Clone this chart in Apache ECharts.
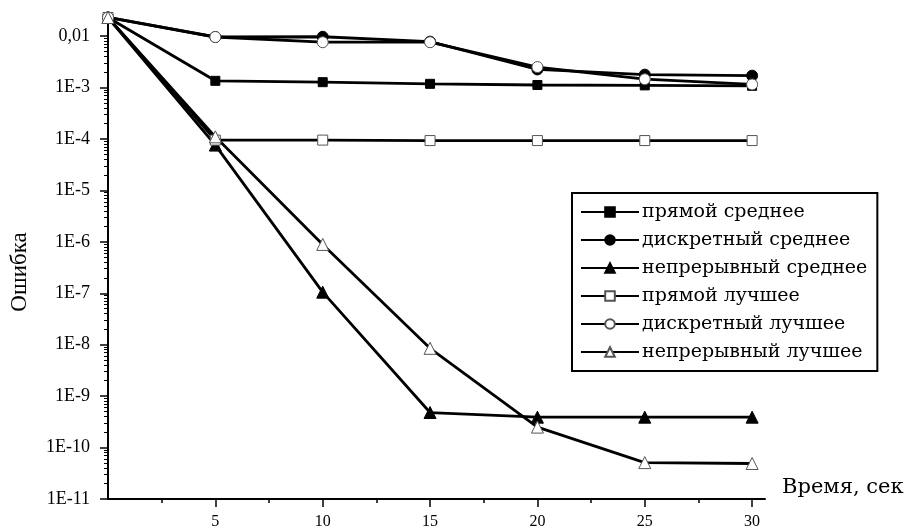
<!DOCTYPE html>
<html>
<head>
<meta charset="utf-8">
<script src="https://cdn.jsdelivr.net/npm/echarts@6/dist/echarts.min.js"></script>
<style>
  html, body { margin: 0; padding: 0; background: #fff; }
  #chart { width: 911px; height: 532px; }
</style>
</head>
<body>
<div id="chart"></div>
<script>
  // время, сек
  var times = [0, 5, 10, 15, 20, 25, 30];
  // ошибка по сериям
  var directMean   = [0.023, 0.00135, 0.00127, 0.00118, 0.00112, 0.0011, 0.00108];
  var discreteMean = [0.023, 0.0096, 0.0097, 0.0078, 0.00225, 0.00178, 0.0017];
  var contMean     = [0.023, 7.6e-5, 1.05e-7, 4.8e-10, 3.9e-10, 3.9e-10, 3.9e-10];
  var directBest   = [0.023, 9.5e-5, 9.5e-5, 9.3e-5, 9.3e-5, 9.3e-5, 9.3e-5];
  var discreteBest = [0.023, 0.0096, 0.0076, 0.0076, 0.0025, 0.00145, 0.00115];
  var contBest     = [0.023, 1.1e-4, 8.9e-7, 8.5e-9, 2.5e-10, 5.1e-11, 4.9e-11];

  var seriesNames = ['прямой среднее', 'дискретный среднее', 'непрерывный среднее',
                     'прямой лучшее', 'дискретный лучшее', 'непрерывный лучшее'];

  var xTicks = [5, 10, 15, 20, 25, 30];
  var xMinorTicks = [2.5, 7.5, 12.5, 17.5, 22.5, 27.5];
  var yTicks = [1e-11, 1e-10, 1e-9, 1e-8, 1e-7, 1e-6, 1e-5, 1e-4, 1e-3, 1e-2];
  var yTickLabels = ['1E-11', '1E-10', '1E-9', '1E-8', '1E-7', '1E-6', '1E-5', '1E-4', '1E-3', '0,01'];

  var yMax = 0.0235
  var yMinorTicks = []
  for (var k = -11; k <= -2; k++) {
    for (var m = 2; m <= 9; m++) {
      var v = m * Math.pow(10, k)
      if (v < yMax) yMinorTicks.push(v)
    }
  }

  function pairs(values) {
    return times.map(function (t, i) { return [t, values[i]] })
  }

  var filled = { color: '#000', borderColor: '#000', borderWidth: 1 }
  var hollow = { color: '#fff', borderColor: '#555', borderWidth: 1 }
  var styles = [
    { symbol: 'rect', size: 9, item: filled, data: directMean },
    { symbol: 'circle', size: 11, item: filled, data: discreteMean },
    { symbol: 'triangle', size: 12, item: filled, data: contMean },
    { symbol: 'rect', size: 10, item: hollow, data: directBest },
    { symbol: 'circle', size: 11, item: hollow, data: discreteBest },
    { symbol: 'triangle', size: 12, item: hollow, data: contBest }
  ]

  var chart = echarts.init(document.getElementById('chart'))
  var serif = 'Liberation Serif, Times New Roman, serif'
  var wide = 'DejaVu Serif, serif'

  chart.setOption({
    animation: false,
    backgroundColor: '#fff',
    grid: { left: 108, right: 146, top: 17, bottom: 33, containLabel: false, outerBoundsMode: 'none' },
    legend: {
      orient: 'vertical',
      left: 572,
      top: 193,
      itemWidth: 58,
      itemHeight: 12,
      itemGap: 8,
      padding: [9, 10, 9, 8],
      borderColor: '#000',
      borderWidth: 2,
      backgroundColor: '#fff',
      textStyle: { fontFamily: wide, fontSize: 19, lineHeight: 20, color: '#000', padding: [0, 0, 0, -2] },
      data: seriesNames
    },
    xAxis: [{
      type: 'value',
      min: 0,
      max: 30.6,
      name: 'Время, сек',
      nameLocation: 'end',
      nameGap: 17,
      nameTextStyle: { fontFamily: wide, fontSize: 21, color: '#000', verticalAlign: 'bottom', padding: [0, 0, 1, 0] },
      axisLine: { show: true, lineStyle: { color: '#000', width: 2 } },
      axisTick: { show: true, inside: false, length: 8, lineStyle: { color: '#000', width: 1.5 }, customValues: xTicks },
      axisLabel: { fontFamily: serif, fontSize: 16, color: '#000', margin: 15, customValues: xTicks },
      splitLine: { show: false }
    }, {
      type: 'value',
      min: 0,
      max: 30.6,
      position: 'bottom',
      axisLine: { show: false },
      axisTick: { show: true, length: 4, lineStyle: { color: '#000', width: 1.5 }, customValues: xMinorTicks },
      axisLabel: { show: false },
      splitLine: { show: false }
    }],
    yAxis: [{
      type: 'log',
      logBase: 10,
      min: 1e-11,
      max: yMax,
      name: 'Ошибка',
      nameLocation: 'middle',
      nameGap: 77,
      nameTextStyle: { fontFamily: serif, fontSize: 23, color: '#000', padding: [0, 28, 0, 0] },
      axisLine: { show: true, lineStyle: { color: '#000', width: 2 } },
      axisTick: { show: true, length: 8, lineStyle: { color: '#000', width: 1.5 }, customValues: yTicks },
      axisLabel: {
        fontFamily: serif, fontSize: 18, color: '#000', margin: 18,
        customValues: yTicks,
        formatter: function (v) {
          var e = Math.round(Math.log(v) / Math.LN10)
          return yTickLabels[e + 11]
        }
      },
      splitLine: { show: false }
    }, {
      type: 'log',
      logBase: 10,
      min: 1e-11,
      max: yMax,
      position: 'left',
      axisLine: { show: false },
      axisTick: { show: true, length: 4, lineStyle: { color: '#000', width: 1 }, customValues: yMinorTicks },
      axisLabel: { show: false },
      splitLine: { show: false }
    }],
    series: styles.map(function (s, i) {
      return {
        name: seriesNames[i],
        type: 'line',
        data: pairs(s.data),
        symbol: s.symbol,
        symbolSize: s.size,
        showAllSymbol: true,
        lineStyle: { color: '#000', width: 2.8 },
        itemStyle: s.item,
        emphasis: { disabled: true }
      }
    })
  })
</script>
</body>
</html>
